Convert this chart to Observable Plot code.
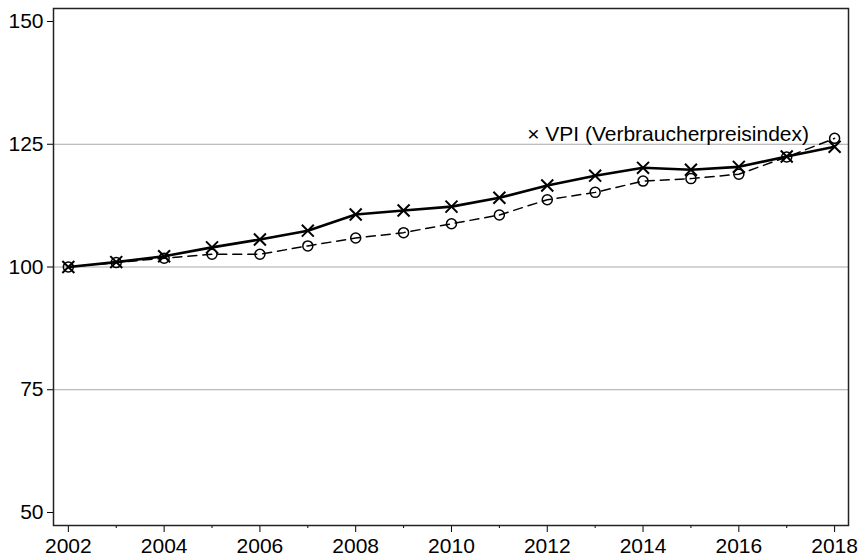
<!DOCTYPE html>
<html>
<head>
<meta charset="utf-8">
<script src="https://cdn.jsdelivr.net/npm/d3@7"></script>
<script src="https://cdn.jsdelivr.net/npm/@observablehq/plot@0.6"></script>
<style>
  body { margin: 0; background: #fff; }
  svg { font-family: "Liberation Sans", Arial, sans-serif; }
</style>
</head>
<body>
<div id="chart"></div>
<script>
const years = [2002,2003,2004,2005,2006,2007,2008,2009,2010,2011,2012,2013,2014,2015,2016,2017,2018];
const vpi = [100,101,102.2,104,105.6,107.4,110.7,111.5,112.3,114.1,116.6,118.6,120.2,119.8,120.4,122.5,124.5];
const other = [100,100.9,101.8,102.6,102.6,104.3,105.9,107.0,108.8,110.6,113.7,115.2,117.5,118.0,118.9,122.4,126.2];
const yTicks = [50,75,100,125,150];
const gridValues = [75,100,125];
const xMajor = [2002,2004,2006,2008,2010,2012,2014,2016,2018];
const xMinor = [2003,2005,2007,2009,2011,2013,2015,2017];
const legendLabel = "× VPI (Verbraucherpreisindex)";
const legendPos = {x: 2011.58, y: 127.1};

const rowsVpi = years.map((y, i) => ({year: y, value: vpi[i]}));
const rowsOther = years.map((y, i) => ({year: y, value: other[i]}));

const chart = Plot.plot({
  width: 861,
  height: 560,
  marginLeft: 53,
  marginRight: 13,
  marginTop: 8,
  marginBottom: 35,
  style: {fontSize: "21px", fontFamily: "Liberation Sans, Arial, sans-serif", color: "#000", background: "#fff"},
  x: {domain: [2001.69, 2018.29]},
  y: {domain: [47.35, 152.65]},
  marks: [
    Plot.gridY(gridValues, {stroke: "#a8a8a8", strokeOpacity: 1, strokeWidth: 1}),
    Plot.axisY(yTicks, {tickSize: 6, tickPadding: 4, fontSize: 21, label: null, stroke: "#000"}),
    Plot.axisX(xMajor, {tickSize: 7, tickPadding: 6, fontSize: 21, label: null, tickFormat: d => String(d), stroke: "#000"}),
    Plot.axisX(xMinor, {tickSize: 3, text: null, label: null, stroke: "#000"}),
    Plot.line(rowsOther, {x: "year", y: "value", stroke: "#000", strokeWidth: 1.5, strokeDasharray: "9,6"}),
    Plot.line(rowsVpi, {x: "year", y: "value", stroke: "#000", strokeWidth: 2.6}),
    Plot.dot(rowsOther, {x: "year", y: "value", symbol: "circle", r: 5, stroke: "#000", strokeWidth: 1.5, fill: "none"}),
    Plot.dot(rowsVpi, {x: "year", y: "value", symbol: "times", r: 5.5, stroke: "#000", strokeWidth: 2}),
    Plot.text([legendLabel], {x: legendPos.x, y: legendPos.y, text: d => d, textAnchor: "start", fontSize: 21, fill: "#000"}),
    Plot.frame({stroke: "#222", strokeWidth: 1.5})
  ]
});
document.getElementById("chart").appendChild(chart);
</script>
</body>
</html>
